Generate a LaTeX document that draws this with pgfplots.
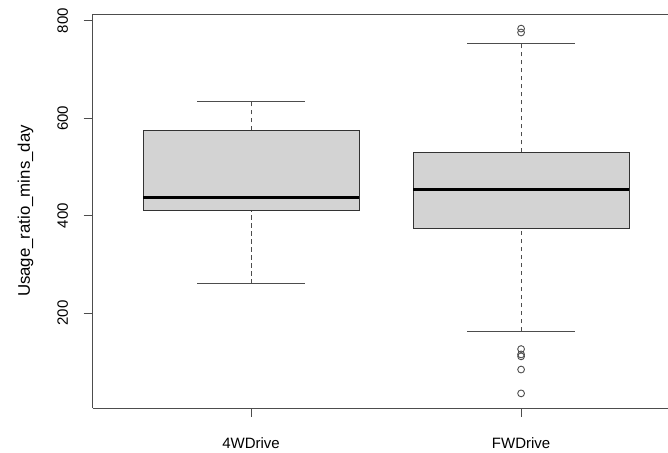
\documentclass[border=0pt]{standalone}
\usepackage{fontspec}
\setmainfont{Liberation Sans}
\usepackage{pgfplots}
\pgfplotsset{compat=1.18}

\definecolor{boxfill}{HTML}{D3D3D3}
\definecolor{linegray}{HTML}{4D4D4D}

\begin{document}
\begin{tikzpicture}
\begin{axis}[
  scale only axis,
  width=575.3bp, height=394bp,
  xmin=0.4137, xmax=2.544,
  ymin=5, ymax=814,
  axis x line=box, axis y line=left,
  axis line style={-, draw=linegray, line width=0.9bp},
  tick style={draw=linegray, line width=0.9bp},
  tick align=outside, major tick length=9bp,
  xtick pos=bottom, ytick pos=left,
  xtick={1,2}, xticklabels={4WDrive,FWDrive},
  ytick={200,400,600,800},
  font=\fontsize{15bp}{18bp}\selectfont,
  /pgf/number format/assume math mode=true,
  yticklabel style={anchor=south, inner sep=0pt, xshift=-15.5bp, rotate=90},
  xticklabel style={anchor=north, inner sep=0pt, yshift=-20bp},
  ylabel={Usage\_ratio\_mins\_day},
  every axis y label/.style={at={(rel axis cs:0,0.5)}, anchor=south, inner sep=0pt,
    xshift=-59.2bp, rotate=90, font=\fontsize{16.8bp}{20bp}\selectfont},
  clip=false,
  whisk/.style={draw=linegray, line width=1bp, dash pattern=on 4.5bp off 3.5bp},
  cap/.style={draw=linegray, line width=1bp},
  boxst/.style={draw=black!80, fill=boxfill, line width=1bp},
  med/.style={draw=black, line width=3bp},
]
% 4WDrive: whiskers 260 / 634, quartiles 411 / 575, median 437
\addplot[whisk] coordinates {(1,260) (1,411)};
\addplot[whisk] coordinates {(1,575) (1,634)};
\addplot[cap] coordinates {(0.8,260) (1.2,260)};
\addplot[cap] coordinates {(0.8,634) (1.2,634)};
\addplot[boxst] coordinates {(0.6,411) (1.4,411) (1.4,575) (0.6,575)} -- cycle;
\addplot[med] coordinates {(0.6,437) (1.4,437)};

% FWDrive: whiskers 163 / 754, quartiles 373 / 530, median 454
\addplot[whisk] coordinates {(2,163) (2,373)};
\addplot[whisk] coordinates {(2,530) (2,754)};
\addplot[cap] coordinates {(1.8,163) (2.2,163)};
\addplot[cap] coordinates {(1.8,754) (2.2,754)};
\addplot[boxst] coordinates {(1.6,373) (2.4,373) (2.4,530) (1.6,530)} -- cycle;
\addplot[med] coordinates {(1.6,454) (2.4,454)};
% outliers
\addplot[only marks, mark=o, mark size=3.4bp, mark options={draw=linegray, line width=0.9bp}]
  coordinates {(2,784) (2,776) (2,126) (2,115) (2,111) (2,84) (2,35)};
\end{axis}
\pgfresetboundingbox
\useasboundingbox ([xshift=-92.7bp, yshift=-44.7bp]current axis.south west)
  rectangle ([yshift=14bp]current axis.north east);
\end{tikzpicture}
\end{document}
